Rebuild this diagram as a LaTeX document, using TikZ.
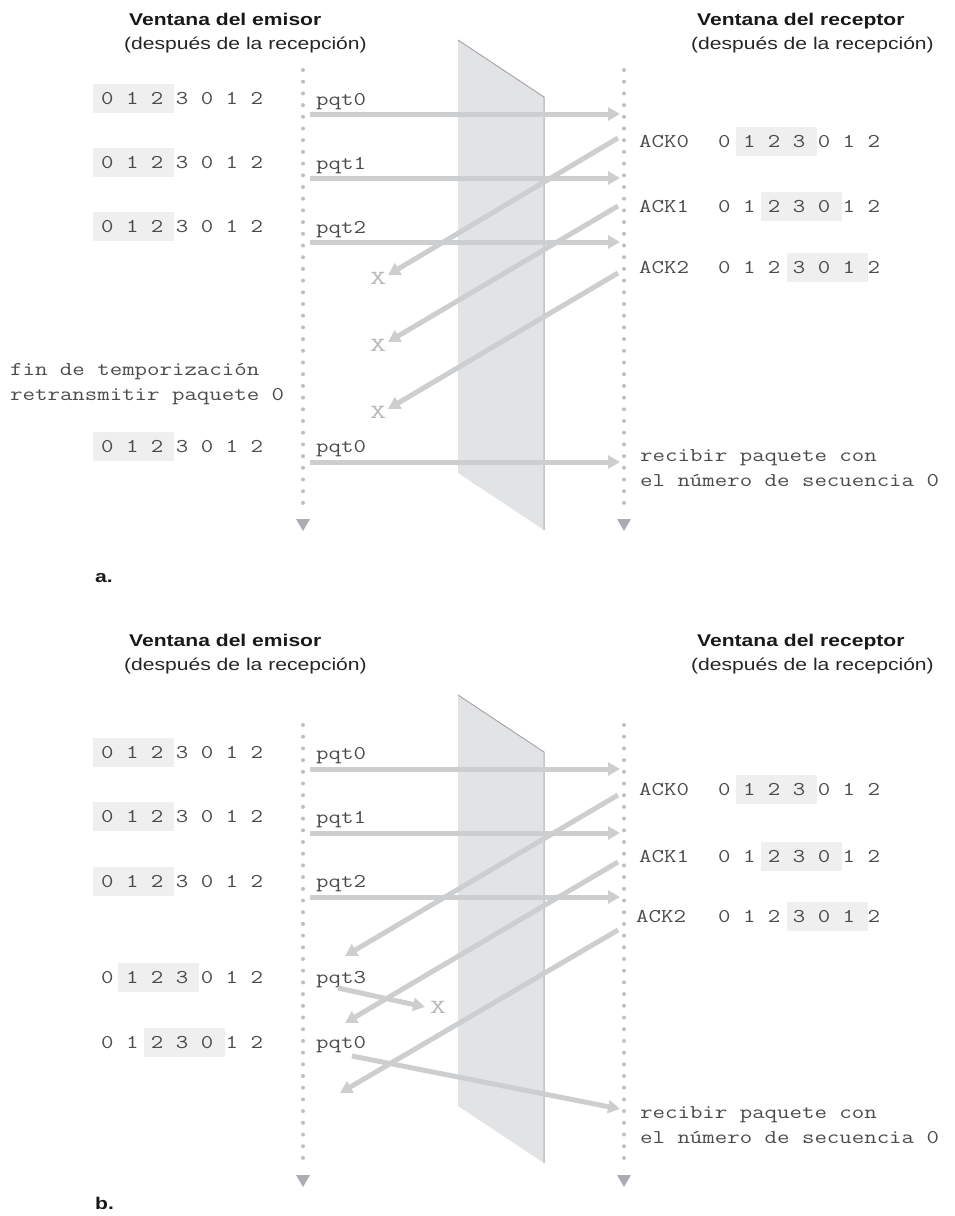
\documentclass[tikz,border=0pt]{standalone}
\usepackage{fontspec}
\setmainfont{Liberation Sans}
\newfontfamily\ttlfont[FakeStretch=1.24]{Liberation Sans}
\newfontfamily\seqfont[FakeStretch=1.24]{Latin Modern Mono}
\newfontfamily\xfont[FakeStretch=1.6]{Latin Modern Mono}
\usetikzlibrary{arrows.meta}
\definecolor{arrowgray}{RGB}{205,206,208}
\definecolor{slabfill}{RGB}{226,227,229}
\definecolor{slabedge}{RGB}{168,168,172}
\definecolor{dotgray}{RGB}{190,190,195}
\definecolor{tipgray}{RGB}{172,172,178}
\definecolor{hlgray}{RGB}{239,239,240}
\definecolor{txtgray}{RGB}{75,75,75}
\definecolor{xgray}{RGB}{185,185,185}
\tikzset{
  ttl/.style={anchor=base west, inner sep=0pt, font=\ttlfont\bfseries\fontsize{17}{20}\selectfont, text=black!90},
  subttl/.style={anchor=base west, inner sep=0pt, font=\ttlfont\fontsize{17}{20}\selectfont, text=black!85},
  seq/.style={anchor=base west, inner sep=0pt, font=\seqfont\fontsize{19.5}{25}\selectfont, text=txtgray},
  xmark/.style={anchor=center, inner sep=0pt, font=\xfont\fontsize{20}{24}\selectfont, text=xgray},
  msg/.style={draw=arrowgray, line width=5pt, -{Triangle[length=12pt,width=13pt]}},
  timeline/.style={draw=dotgray, line width=4pt, line cap=round, dash pattern=on 0pt off 11.7pt},
  hl/.style={fill=hlgray},
}
\newcommand{\hlbox}[3]{\fill[hl] ({#1},{#3-20.5}) rectangle ({#2},{#3+8.5});}
\newcommand{\tltip}[2]{\fill[tipgray] ({#1-7},{#2}) -- ({#1+7},{#2}) -- ({#1},{#2+12}) -- cycle;}
\begin{document}
\begin{tikzpicture}[x=1pt,y=-1pt]
\useasboundingbox (0,0) rectangle (954,1216);

% ================= PART A =================
\hlbox{93}{174}{104}
\hlbox{93}{174}{168}
\hlbox{93}{174}{232}
\hlbox{93}{174}{452}
\hlbox{736}{817}{147}
\hlbox{761}{842}{212}
\hlbox{787}{868}{273}
\fill[slabfill] (458,40) -- (544,97) -- (544,530) -- (458,473) -- cycle;
\draw[slabedge, line width=1pt] (458,40) -- (544,97) -- (544,530);
\coordinate (aLtop) at (303,70);
\coordinate (aLbot) at (303,512);
\coordinate (aRtop) at (624,70);
\coordinate (aRbot) at (624,512);
\draw[timeline] (aLtop) -- (aLbot);
\draw[timeline] (aRtop) -- (aRbot);
\tltip{303}{519}
\tltip{624}{519}
\node[ttl] (aT1) at (129,25) {Ventana del emisor};
\node[subttl] (aS1) at (124,49) {(después de la recepción)};
\node[ttl] (aT2) at (697,25) {Ventana del receptor};
\node[subttl] (aS2) at (691,49) {(después de la recepción)};
\node[seq] (aW1) at (101,104) {0 1 2 3 0 1 2};
\node[seq] (aW2) at (101,168) {0 1 2 3 0 1 2};
\node[seq] (aW3) at (101,232) {0 1 2 3 0 1 2};
\node[seq] (aW4) at (101,452) {0 1 2 3 0 1 2};
\node[seq] (aF1) at (10,375) {fin de temporización};
\node[seq] (aF2) at (10,400) {retransmitir paquete 0};
\node[seq] (aP0) at (316,105) {pqt0};
\node[seq] (aP1) at (316,169) {pqt1};
\node[seq] (aP2) at (316,233) {pqt2};
\node[seq] (aP3) at (316,452) {pqt0};
\node[seq] (aA0) at (639,147) {ACK0};
\node[seq] (aA1) at (639,212) {ACK1};
\node[seq] (aA2) at (639,273) {ACK2};
\node[seq] (aR0) at (718,147) {0 1 2 3 0 1 2};
\node[seq] (aR1) at (718,212) {0 1 2 3 0 1 2};
\node[seq] (aR2) at (718,273) {0 1 2 3 0 1 2};
\node[seq] (aRc1) at (640,461) {recibir paquete con};
\node[seq] (aRc2) at (640,486) {el número de secuencia 0};
\node[xmark] (aX1) at (378,278) {X};
\node[xmark] (aX2) at (378,345) {X};
\node[xmark] (aX3) at (378,412) {X};
\coordinate (ap0s) at (310,114);  \coordinate (ap0e) at (620,114);
\coordinate (ap1s) at (310,178);  \coordinate (ap1e) at (620,178);
\coordinate (ap2s) at (310,242);  \coordinate (ap2e) at (620,242);
\coordinate (ap3s) at (310,462);  \coordinate (ap3e) at (620,462);
\coordinate (aa0s) at (618,138);  \coordinate (aa0e) at (388,275);
\coordinate (aa1s) at (618,206);  \coordinate (aa1e) at (388,342);
\coordinate (aa2s) at (618,273);  \coordinate (aa2e) at (388,409);
\draw[msg] (ap0s) -- (ap0e);
\draw[msg] (ap1s) -- (ap1e);
\draw[msg] (ap2s) -- (ap2e);
\draw[msg] (ap3s) -- (ap3e);
\draw[msg] (aa0s) -- (aa0e);
\draw[msg] (aa1s) -- (aa1e);
\draw[msg] (aa2s) -- (aa2e);
\node[ttl] (aLab) at (95,582) {a.};

% ================= PART B =================
\hlbox{93}{174}{758}
\hlbox{93}{174}{822}
\hlbox{93}{174}{887}
\hlbox{118.4}{199.4}{983}
\hlbox{144}{225}{1048}
\hlbox{736}{817}{795}
\hlbox{761}{842}{862}
\hlbox{787}{868}{922}
\fill[slabfill] (458,695) -- (544,752) -- (544,1163) -- (458,1106) -- cycle;
\draw[slabedge, line width=1pt] (458,695) -- (544,752) -- (544,1163);
\coordinate (bLtop) at (303,725);
\coordinate (bLbot) at (303,1168);
\coordinate (bRtop) at (624,725);
\coordinate (bRbot) at (624,1168);
\draw[timeline] (bLtop) -- (bLbot);
\draw[timeline] (bRtop) -- (bRbot);
\tltip{303}{1175}
\tltip{624}{1175}
\node[ttl] (bT1) at (129,646) {Ventana del emisor};
\node[subttl] (bS1) at (124,670) {(después de la recepción)};
\node[ttl] (bT2) at (697,646) {Ventana del receptor};
\node[subttl] (bS2) at (691,670) {(después de la recepción)};
\node[seq] (bW1) at (101,758) {0 1 2 3 0 1 2};
\node[seq] (bW2) at (101,822) {0 1 2 3 0 1 2};
\node[seq] (bW3) at (101,887) {0 1 2 3 0 1 2};
\node[seq] (bW4) at (101,983) {0 1 2 3 0 1 2};
\node[seq] (bW5) at (101,1048) {0 1 2 3 0 1 2};
\node[seq] (bP0) at (316,759) {pqt0};
\node[seq] (bP1) at (316,823) {pqt1};
\node[seq] (bP2) at (316,887) {pqt2};
\node[seq] (bP3) at (316,983) {pqt3};
\node[seq] (bP4) at (316,1048) {pqt0};
\node[seq] (bA0) at (639,795) {ACK0};
\node[seq] (bA1) at (639,862) {ACK1};
\node[seq] (bA2) at (636,922) {ACK2};
\node[seq] (bR0) at (718,795) {0 1 2 3 0 1 2};
\node[seq] (bR1) at (718,862) {0 1 2 3 0 1 2};
\node[seq] (bR2) at (718,922) {0 1 2 3 0 1 2};
\node[seq] (bRc1) at (640,1118) {recibir paquete con};
\node[seq] (bRc2) at (640,1143) {el número de secuencia 0};
\node[xmark] (bX1) at (438,1007) {X};
\coordinate (bp0s) at (310,769);  \coordinate (bp0e) at (620,769);
\coordinate (bp1s) at (310,833);  \coordinate (bp1e) at (620,833);
\coordinate (bp2s) at (310,897);  \coordinate (bp2e) at (620,897);
\coordinate (bp3s) at (338,988);  \coordinate (bp3e) at (425,1007);
\coordinate (bp4s) at (352,1056); \coordinate (bp4e) at (620,1109);
\coordinate (ba0s) at (618,795);  \coordinate (ba0e) at (345,956);
\coordinate (ba1s) at (618,862);  \coordinate (ba1e) at (345,1023);
\coordinate (ba2s) at (618,930);  \coordinate (ba2e) at (340,1093);
\draw[msg] (bp0s) -- (bp0e);
\draw[msg] (bp1s) -- (bp1e);
\draw[msg] (bp2s) -- (bp2e);
\draw[msg] (bp3s) -- (bp3e);
\draw[msg] (bp4s) -- (bp4e);
\draw[msg] (ba0s) -- (ba0e);
\draw[msg] (ba1s) -- (ba1e);
\draw[msg] (ba2s) -- (ba2e);
\node[ttl] (bLab) at (95,1209) {b.};
\end{tikzpicture}
\end{document}
